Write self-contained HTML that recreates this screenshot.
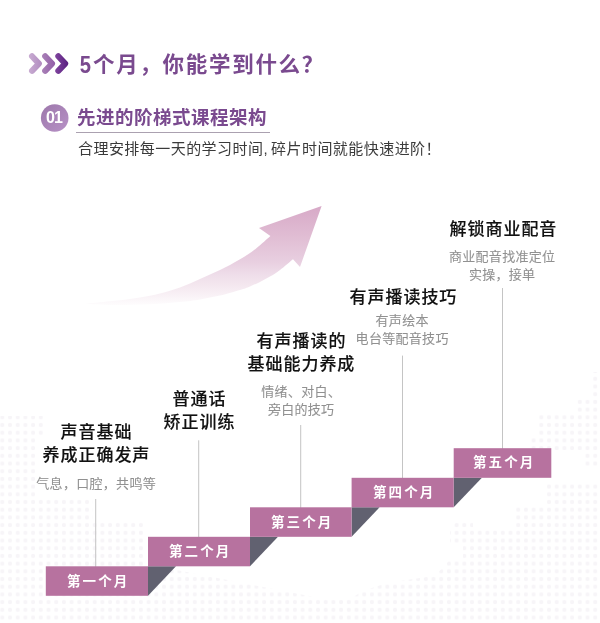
<!DOCTYPE html>
<html lang="zh-CN">
<head>
<meta charset="utf-8">
<title>5个月，你能学到什么？</title>
<style>
html,body{margin:0;padding:0;}
body{width:600px;height:623px;overflow:hidden;background:#fff;position:relative;font-family:"Liberation Sans","Noto Sans CJK SC",sans-serif;}
#bg{position:absolute;left:0;top:0;width:600px;height:623px;}
.t{position:absolute;white-space:nowrap;line-height:1;margin:0;will-change:transform;}
.title{left:79.2px;top:54.2px;font-size:21.5px;font-weight:700;color:#7a4a8f;letter-spacing:1.7px;}
.num{left:39.6px;top:104.3px;width:28px;height:28px;line-height:28px;text-align:center;font-size:16px;font-weight:700;color:#fff;letter-spacing:-1px;}
.sub{left:77px;top:109.3px;font-size:18.5px;letter-spacing:0.5px;font-weight:700;color:#7a4a8f;}
.desc{left:77.5px;top:140.5px;font-size:15px;font-weight:400;color:#3a3a3a;letter-spacing:0.45px;}
.five{display:inline-block;font-size:23.5px;line-height:21px;letter-spacing:0;width:14px;transform:translate(0.7px,0.8px) scaleX(0.86);transform-origin:0 50%;}
.desc i{font-style:normal;margin-right:3px;}
.h{font-size:17px;font-weight:500;color:#111;-webkit-text-stroke:0.15px #111;text-align:center;line-height:23.4px;transform:translateX(-50%);letter-spacing:0.95px;padding-left:0.95px;}
.p{font-size:13px;font-weight:400;color:#919191;-webkit-text-stroke:0.1px #919191;text-align:center;line-height:17.6px;transform:translateX(-50%);letter-spacing:0.3px;padding-left:0.3px;}
.m{font-size:13.5px;font-weight:700;color:#fff;letter-spacing:2.1px;}
</style>
</head>
<body>
<svg id="bg" width="600" height="623" viewBox="0 0 600 623">
  <defs>
    <linearGradient id="arr" gradientUnits="userSpaceOnUse" x1="0" y1="206" x2="0" y2="308">
      <stop offset="0.000" stop-color="#d7a9c7"/>
      <stop offset="0.284" stop-color="#e0bcd3"/>
      <stop offset="0.549" stop-color="#e8cfe0"/>
      <stop offset="0.676" stop-color="#efdeea"/>
      <stop offset="0.775" stop-color="#f4e7ef"/>
      <stop offset="0.863" stop-color="#f8f0f5"/>
      <stop offset="0.941" stop-color="#fcf9fb"/>
      <stop offset="1.000" stop-color="#ffffff"/>
    </linearGradient>
    <pattern id="dots" width="7.7" height="7.7" patternUnits="userSpaceOnUse" patternTransform="translate(-1.55,-2.35)">
      <circle cx="3.85" cy="3.85" r="2.1" fill="#f7f5f8"/>
    </pattern>
    <linearGradient id="c1" gradientUnits="userSpaceOnUse" x1="28" y1="0" x2="42" y2="0"><stop offset="0" stop-color="#caaed3"/><stop offset="1" stop-color="#b18cc0"/></linearGradient>
    <linearGradient id="c2" gradientUnits="userSpaceOnUse" x1="41" y1="0" x2="55" y2="0"><stop offset="0" stop-color="#ab84b8"/><stop offset="1" stop-color="#925ea8"/></linearGradient>
    <linearGradient id="c3" gradientUnits="userSpaceOnUse" x1="54" y1="0" x2="68" y2="0"><stop offset="0" stop-color="#8247a0"/><stop offset="1" stop-color="#5a2080"/></linearGradient>
    <linearGradient id="circ" x1="0" y1="0" x2="1" y2="1">
      <stop offset="0" stop-color="#9d78ab"/>
      <stop offset="1" stop-color="#b791c6"/>
    </linearGradient>
  </defs>
  <!-- faint dotted background -->
  <path d="M0,416 L43,416 L43,438 L37,438 L37,497 L93,497 L93,520 L143,520 L143,566 L166,568 L330,600 L350,599 L363,591 L387,583 L433,576 L443,568 L450,559 L463,559 L463,544 L450,544 L450,529 L457,521 L473,521 L473,529 L513,529 L513,505 L545,505 L545,482 L600,482 L600,623 L0,623 Z M600,372 L590,372 L590,398 L575,398 L575,412 L537,412 L537,435 L530,435 L530,450 L582,450 L582,466 L600,466 Z" fill="url(#dots)"/>
  <!-- chevrons -->
  <g fill="none" stroke-width="6" stroke-linecap="round" stroke-linejoin="round">
    <polyline points="32,56.3 38.9,63.6 32,70.9" stroke="url(#c1)"/>
    <polyline points="45.15,56.3 52.05,63.6 45.15,70.9" stroke="url(#c2)"/>
    <polyline points="58.3,56.3 65.2,63.6 58.3,70.9" stroke="url(#c3)"/>
  </g>
  <circle cx="54.7" cy="118" r="13.8" fill="url(#circ)"/>
  <rect x="76" y="132" width="194" height="1" fill="#aba1b0"/>
  <!-- arrow -->
  <path d="M85.0,303.8 C89.2,303.4 102.5,302.1 110.0,301.3 C117.5,300.5 123.3,299.9 130.0,299.0 C136.7,298.1 143.3,297.2 150.0,295.8 C156.7,294.4 163.3,292.9 170.0,290.8 C176.7,288.7 183.3,286.1 190.0,283.4 C196.7,280.7 203.3,277.7 210.0,274.6 C216.7,271.5 223.3,268.6 230.0,265.0 C236.7,261.4 245.0,256.3 250.0,253.0 C255.0,249.7 256.6,248.0 260.0,245.2 C263.4,242.4 268.7,237.5 270.4,236.0 L259,228 L321.6,206 L300,267 L293,259.2 C290.8,261.0 283.8,267.1 280.0,270.0 C276.2,272.9 273.3,274.6 270.0,276.6 C266.7,278.6 263.3,280.4 260.0,282.0 C256.7,283.6 253.3,285.1 250.0,286.4 C246.7,287.7 245.0,288.5 240.0,290.0 C235.0,291.5 226.7,294.0 220.0,295.6 C213.3,297.2 206.7,298.3 200.0,299.4 C193.3,300.5 188.3,301.2 180.0,302.0 C171.7,302.8 161.2,303.7 150.0,304.2 C138.8,304.7 123.8,305.1 113.0,305.0 C102.2,304.9 89.7,304.0 85.0,303.8 Z" fill="url(#arr)"/>
  <!-- lines -->
  <g fill="#c4c4c4">
    <rect x="95.2" y="499" width="1" height="68"/>
    <rect x="198.2" y="440.3" width="1" height="97"/>
    <rect x="300.2" y="425" width="1" height="83"/>
    <rect x="402" y="355.6" width="1" height="123"/>
    <rect x="502" y="288" width="1" height="161"/>
  </g>
  <!-- steps -->
  <g fill="#616170">
    <polygon points="148,566.3 176,566.3 148,595.8"/>
    <polygon points="250,536.8 278,536.8 250,566.3"/>
    <polygon points="351.6,507.3 379.6,507.3 351.6,536.8"/>
    <polygon points="453.7,477.8 481.9,477.8 453.7,507.3"/>
  </g>
  <g fill="#b7729f">
    <rect x="45.8" y="566.3" width="102.2" height="29.5"/>
    <rect x="148" y="536.8" width="102" height="29.5"/>
    <rect x="250" y="507.3" width="101.6" height="29.5"/>
    <rect x="351.6" y="477.8" width="102.1" height="29.5"/>
    <rect x="453.7" y="448.2" width="97.6" height="29.6"/>
  </g>
</svg>
<div class="t title"><span class="five">5</span>个月，你能学到什么？</div>
<div class="t num">01</div>
<div class="t sub">先进的阶梯式课程架构</div>
<div class="t desc">合理安排每一天的学习时间<i>,</i>碎片时间就能快速进阶！</div>

<div class="t h" style="left:95.8px;top:421px;">声音基础<br>养成正确发声</div>
<div class="t p" style="left:96.3px;top:474.6px;">气息，口腔，共鸣等</div>

<div class="t h" style="left:198.6px;top:388.4px;">普通话<br>矫正训练</div>

<div class="t h" style="left:300.5px;top:330px;">有声播读的<br>基础能力养成</div>
<div class="t p" style="left:300.5px;top:382.6px;">情绪、对白、<br>旁白的技巧</div>

<div class="t h" style="left:403px;top:286px;">有声播读技巧</div>
<div class="t p" style="left:402.3px;top:312.2px;">有声绘本<br>电台等配音技巧</div>

<div class="t h" style="left:502.5px;top:218.3px;">解锁商业配音</div>
<div class="t p" style="left:502.3px;top:248px;">商业配音找准定位<br>实操，接单</div>

<div class="t m" style="left:67px;top:574.8px;">第一个月</div>
<div class="t m" style="left:169px;top:545.1px;">第二个月</div>
<div class="t m" style="left:271px;top:515.8px;">第三个月</div>
<div class="t m" style="left:373px;top:486.1px;">第四个月</div>
<div class="t m" style="left:472.7px;top:456.3px;">第五个月</div>
</body>
</html>
